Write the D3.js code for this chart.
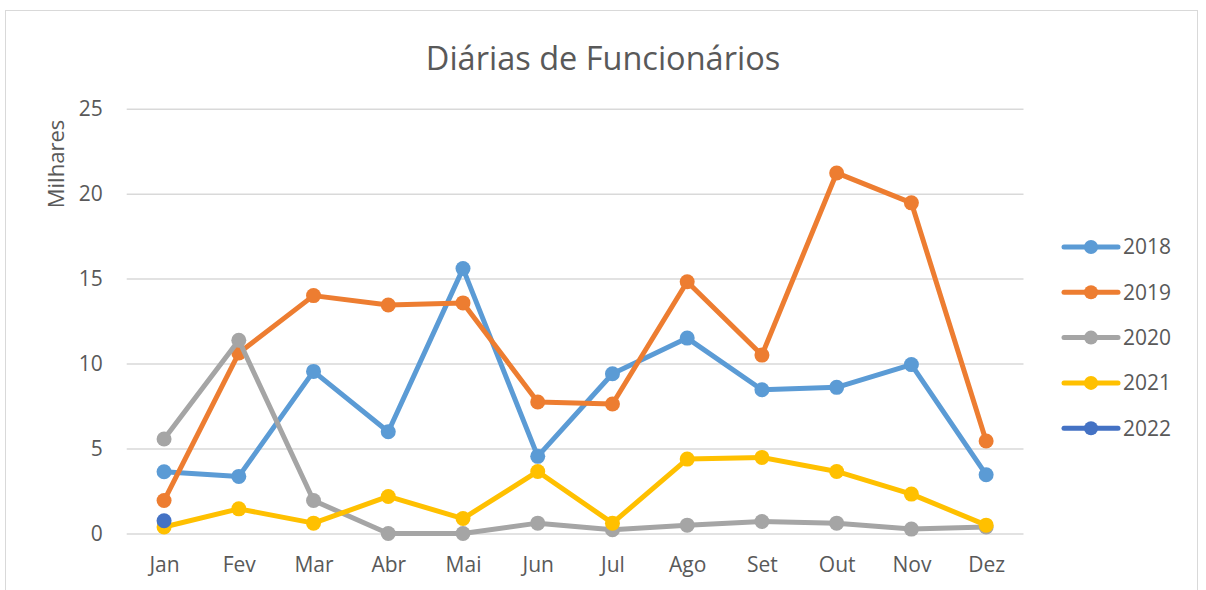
<!DOCTYPE html>
<html>
<head>
<meta charset="utf-8">
<script src="https://cdn.jsdelivr.net/npm/d3@7"></script>
<style>
  body { margin: 0; background: #fff; }
  text { font-family: "Open Sans", sans-serif; fill: #595959; }
</style>
</head>
<body>
<svg width="1206" height="590"></svg>
<script>
// chart data (thousands)
const months = ["Jan", "Fev", "Mar", "Abr", "Mai", "Jun", "Jul", "Ago", "Set", "Out", "Nov", "Dez"];
const years = ["2018", "2019", "2020", "2021", "2022"];
const v2018 = [3.63, 3.36, 9.54, 5.99, 15.59, 4.54, 9.40, 11.50, 8.46, 8.60, 9.94, 3.46];
const v2019 = [1.94, 10.62, 14.00, 13.45, 13.57, 7.74, 7.62, 14.82, 10.50, 21.22, 19.46, 5.44];
const v2020 = [5.56, 11.37, 1.94, 0.00, 0.00, 0.61, 0.22, 0.49, 0.71, 0.61, 0.26, 0.38];
const v2021 = [0.38, 1.45, 0.61, 2.18, 0.88, 3.65, 0.61, 4.38, 4.48, 3.65, 2.32, 0.49];
const v2022 = [0.75];
const yTicks = [0, 5, 10, 15, 20, 25];
const colors = ["#5B9BD5", "#ED7D31", "#A5A5A5", "#FFC000", "#4472C4"];

const seriesList = [v2018, v2019, v2020, v2021, v2022];

const svg = d3.select("svg");

// outer chart border
svg.append("rect")
    .attr("x", 5.5)
    .attr("y", 10.5)
    .attr("width", 1192)
    .attr("height", 600)
    .attr("fill", "none")
    .attr("stroke", "#D9D9D9");

const plotLeft = 126.7, plotRight = 1023.5, plotTop = 108.7, plotBottom = 533.5;

const x = d3.scalePoint()
    .domain(months)
    .range([plotLeft, plotRight])
    .padding(0.5);

const y = d3.scaleLinear()
    .domain([0, 25])
    .range([plotBottom, plotTop]);

// title
svg.append("text")
    .attr("x", 603)
    .attr("y", 70)
    .attr("text-anchor", "middle")
    .style("font-size", "32.5px")
    .text("Diárias de Funcionários");

// y gridlines + labels
const yAxis = d3.axisLeft(y)
    .tickValues(yTicks)
    .tickSize(-(plotRight - plotLeft))
    .tickPadding(24);

svg.append("g")
    .attr("transform", `translate(${plotLeft},0)`)
    .call(yAxis)
    .call(g => g.select(".domain").remove())
    .call(g => g.selectAll(".tick line").attr("stroke", "#D9D9D9").attr("stroke-width", 1.5))
    .call(g => g.selectAll(".tick text").style("font-size", "21px").attr("fill", "#595959"));

// x axis labels
const xAxis = d3.axisBottom(x).tickSize(0).tickPadding(24);
svg.append("g")
    .attr("transform", `translate(0,${plotBottom})`)
    .call(xAxis)
    .call(g => g.select(".domain").remove())
    .call(g => g.selectAll(".tick text").style("font-size", "21px").attr("fill", "#595959"));

// y axis title
svg.append("text")
    .attr("transform", "translate(64,164) rotate(-90)")
    .attr("text-anchor", "middle")
    .style("font-size", "22px")
    .text("Milhares");

const line = d3.line()
    .x((d, i) => x(months[i]))
    .y(d => y(d));

// series
seriesList.forEach((vals, s) => {
    const g = svg.append("g");
    g.append("path")
        .datum(vals)
        .attr("d", line)
        .attr("fill", "none")
        .attr("stroke", colors[s])
        .attr("stroke-width", 5)
        .attr("stroke-linejoin", "round")
        .attr("stroke-linecap", "round");
    g.selectAll("circle")
        .data(vals)
        .join("circle")
        .attr("cx", (d, i) => x(months[i]))
        .attr("cy", d => y(d))
        .attr("r", 7.5)
        .attr("fill", colors[s]);
});

// legend
const legend = svg.append("g");
years.forEach((yr, i) => {
    const ly = 247 + i * 45.3;
    legend.append("line")
        .attr("x1", 1064).attr("x2", 1118)
        .attr("y1", ly).attr("y2", ly)
        .attr("stroke", colors[i])
        .attr("stroke-width", 5)
        .attr("stroke-linecap", "round");
    legend.append("circle")
        .attr("cx", 1091).attr("cy", ly)
        .attr("r", 7)
        .attr("fill", colors[i]);
    legend.append("text")
        .attr("x", 1123)
        .attr("y", ly)
        .attr("dy", "0.35em")
        .style("font-size", "21px")
        .text(yr);
});
</script>
</body>
</html>
